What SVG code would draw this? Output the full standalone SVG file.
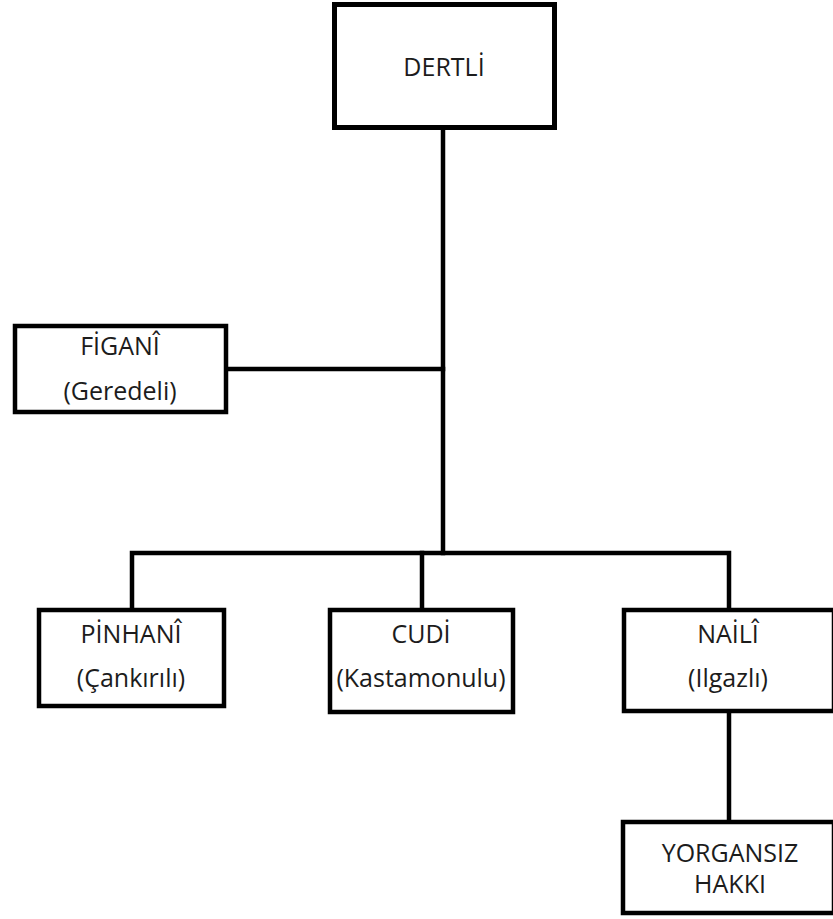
<svg xmlns="http://www.w3.org/2000/svg" width="833" height="919" viewBox="0 0 833 919">
  <style>
    .box { fill: #ffffff; stroke: #000000; stroke-width: 4.5; }
    .link { fill: none; stroke: #000000; stroke-width: 4.5; stroke-linejoin: miter; stroke-linecap: square; }
    .label { font-family: "Open Sans", "Noto Sans", "DejaVu Sans", sans-serif; font-size: 25px; fill: #1c1c1c; text-anchor: middle; }
  </style>
  <rect width="833" height="919" fill="#ffffff"/>

  <g id="connectors">
    <!-- main trunk from DERTLİ -->
    <line class="link" x1="443" y1="130" x2="443" y2="553"/>
    <!-- side branch to FİGANÎ -->
    <line class="link" x1="228" y1="369" x2="443" y2="369"/>
    <!-- bar over the bottom row -->
    <path class="link" d="M132,608 V553 H729 V608"/>
    <line class="link" x1="422" y1="553" x2="422" y2="608"/>
    <!-- NAİLÎ to YORGANSIZ HAKKI -->
    <line class="link" x1="729" y1="712" x2="729" y2="820"/>
  </g>

  <g id="dertli">
    <rect class="box" x="334.5" y="4.5" width="220" height="123" style="stroke-width:5"/>
    <text class="label" x="444" y="76">DERTLİ</text>
  </g>

  <g id="figani">
    <rect class="box" x="15" y="326" width="211" height="86"/>
    <text class="label" x="120" y="355">FİGANÎ</text>
    <text class="label" x="120" y="400">(Geredeli)</text>
  </g>

  <g id="pinhani">
    <rect class="box" x="39" y="610" width="185" height="96"/>
    <text class="label" x="131" y="643">PİNHANÎ</text>
    <text class="label" x="131" y="687">(Çankırılı)</text>
  </g>

  <g id="cudi">
    <rect class="box" x="330" y="610" width="183" height="102"/>
    <text class="label" x="421" y="643">CUDİ</text>
    <text class="label" x="421" y="687">(Kastamonulu)</text>
  </g>

  <g id="naili">
    <rect class="box" x="624" y="610" width="210" height="101"/>
    <text class="label" x="728" y="643">NAİLÎ</text>
    <text class="label" x="728" y="687">(Ilgazlı)</text>
  </g>

  <g id="yorgansiz">
    <rect class="box" x="623" y="822" width="211" height="91"/>
    <text class="label" x="730" y="862">YORGANSIZ</text>
    <text class="label" x="730" y="893">HAKKI</text>
  </g>
</svg>
